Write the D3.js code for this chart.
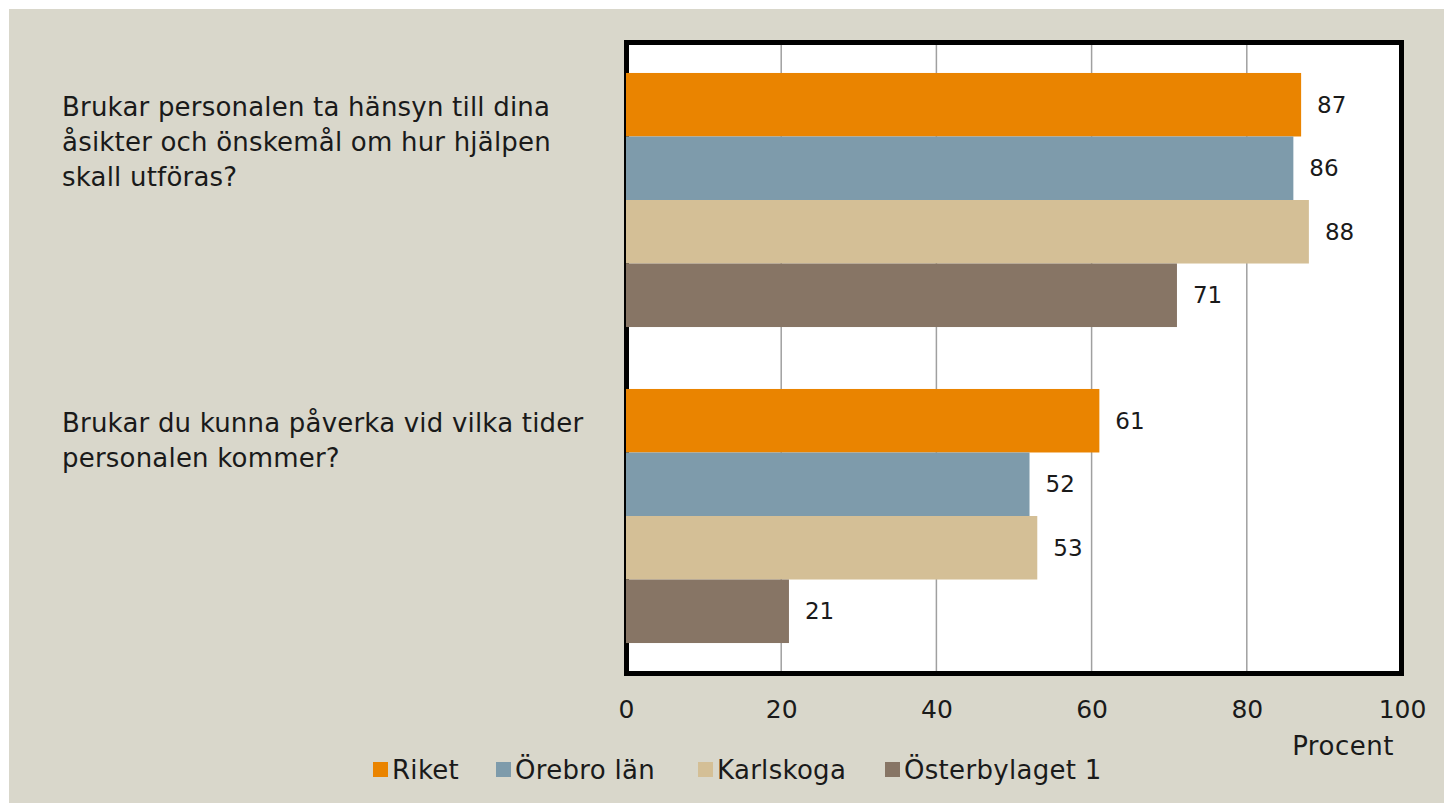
<!DOCTYPE html>
<html>
<head>
<meta charset="utf-8">
<script src="https://cdn.jsdelivr.net/npm/d3@7"></script>
<style>
  body { margin: 0; background: #fff; }
  text { font-family: "DejaVu Sans", sans-serif; fill: #1a1a1a; }
</style>
</head>
<body>
<div id="chart"></div>
<script>
var categories = [
    ["Brukar personalen ta hänsyn till dina", "åsikter och önskemål om hur hjälpen", "skall utföras?"],
    ["Brukar du kunna påverka vid vilka tider", "personalen kommer?"]
]
var seriesNames = ["Riket", "Örebro län", "Karlskoga", "Österbylaget 1"]
var seriesColors = ["#ea8400", "#7e9bab", "#d4bf96", "#877565"]
var values = [
    [87, 86, 88, 71],
    [61, 52, 53, 21]
]
var ticks = [0, 20, 40, 60, 80, 100]

function chart() {
    var width = 1444
    var height = 803

    var svg = d3.select("#chart")
        .append("svg")
        .attr("width", width)
        .attr("height", height)

    svg.append("rect")
        .attr("x", 9).attr("y", 9)
        .attr("width", width - 9).attr("height", height - 9)
        .attr("fill", "#d9d7cb")

    var x = d3.scaleLinear().domain([0, 100]).range([626, 1402])
    var y = d3.scaleBand().domain(d3.range(categories.length)).range([42, 674])
        .paddingInner(0.196).paddingOuter(0.098)
    var ySub = d3.scaleBand().domain(d3.range(seriesNames.length)).range([0, y.bandwidth()])

    // plot area + frame
    svg.append("rect")
        .attr("x", 626.5).attr("y", 42.5)
        .attr("width", 775).attr("height", 631)
        .attr("fill", "#fff")
        .attr("stroke", "#000")
        .attr("stroke-width", 5)

    svg.append("g")
        .selectAll("line")
        .data(ticks.slice(1, -1))
        .join("line")
        .attr("x1", d => x(d)).attr("x2", d => x(d))
        .attr("y1", 45).attr("y2", 671)
        .attr("stroke", "#a0a0a0")
        .attr("stroke-width", 1.5)

    var groups = svg.append("g")
        .selectAll("g")
        .data(values)
        .join("g")
        .attr("transform", (d, i) => `translate(0,${y(i)})`)

    groups.selectAll("rect")
        .data(d => d)
        .join("rect")
        .attr("x", x(0))
        .attr("y", (d, i) => ySub(i))
        .attr("width", d => x(d) - x(0))
        .attr("height", ySub.bandwidth())
        .attr("fill", (d, i) => seriesColors[i])

    groups.selectAll("text")
        .data(d => d)
        .join("text")
        .attr("x", d => x(d) + 16)
        .attr("y", (d, i) => ySub(i) + ySub.bandwidth() / 2)
        .attr("dy", "0.35em")
        .style("font-size", "23px")
        .text(d => d)

    // category labels
    svg.append("g")
        .selectAll("text")
        .data(categories)
        .join("text")
        .attr("x", 62)
        .attr("y", (d, i) => y(i) + y.bandwidth() / 2 - 93)
        .style("font-size", "26px")
        .style("letter-spacing", "0.2px")
        .selectAll("tspan")
        .data(d => d)
        .join("tspan")
        .attr("x", 62)
        .attr("dy", (d, i) => i == 0 ? "0.35em" : "35px")
        .text(d => d)

    // axis
    var axis = svg.append("g")
        .attr("transform", "translate(0,674)")
        .call(d3.axisBottom(x).tickValues(ticks).tickSize(0).tickPadding(26))
    axis.select(".domain").remove()
    axis.selectAll("text").style("font-size", "25px").attr("fill", "#1a1a1a")
        .style("font-family", "DejaVu Sans")

    svg.append("text")
        .attr("x", 1343).attr("y", 746)
        .attr("dy", "0.35em")
        .attr("text-anchor", "middle")
        .style("font-size", "26px")
        .style("letter-spacing", "0.5px")
        .text("Procent")

    // legend
    var legendX = [373, 496, 698, 885]
    var legend = svg.append("g")
        .selectAll("g")
        .data(seriesNames)
        .join("g")
        .attr("transform", (d, i) => `translate(${legendX[i]},770)`)

    legend.append("rect")
        .attr("x", 0).attr("y", -8)
        .attr("width", 15).attr("height", 15)
        .attr("fill", (d, i) => seriesColors[i])

    legend.append("text")
        .attr("x", 19)
        .attr("dy", "0.35em")
        .style("font-size", "26px")
        .style("letter-spacing", "0.3px")
        .text(d => d)
}
chart()
</script>
</body>
</html>
